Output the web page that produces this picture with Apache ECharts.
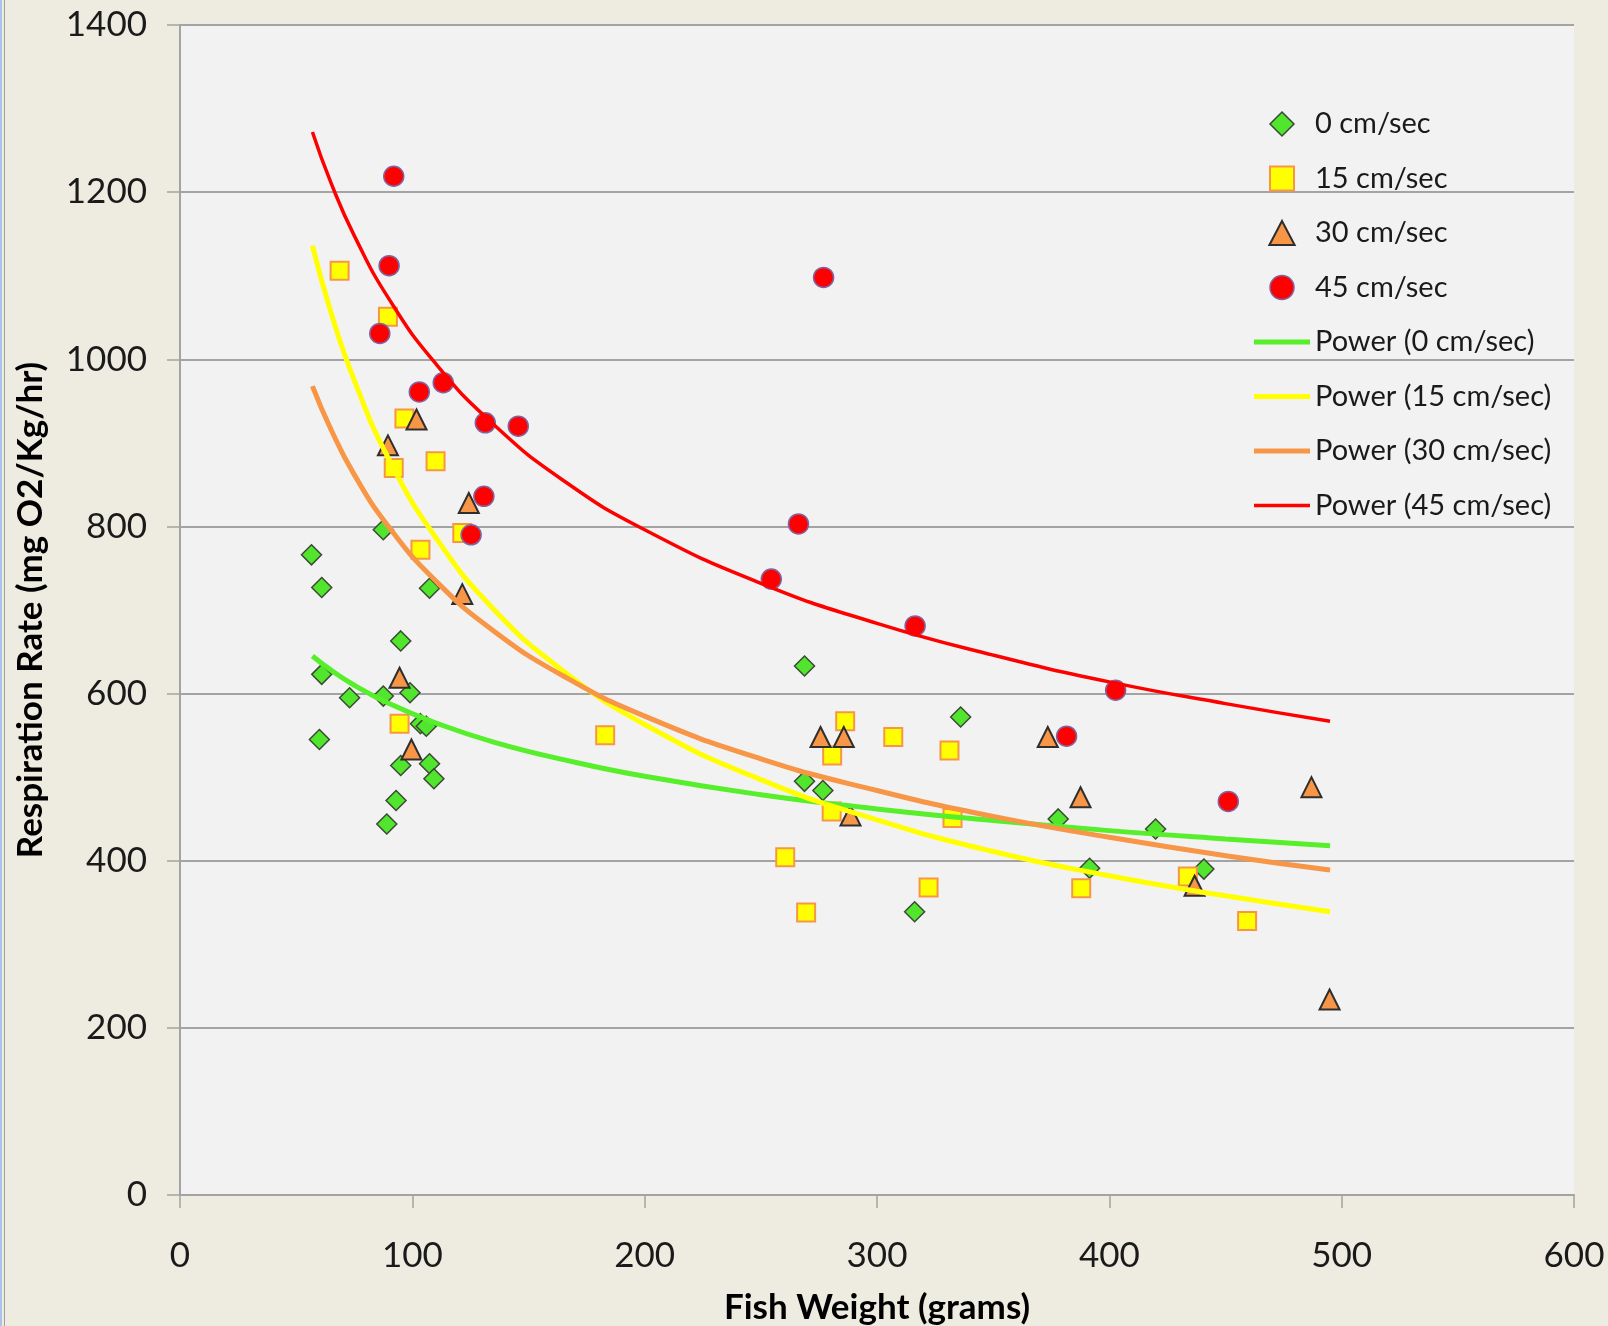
<!DOCTYPE html>
<html>
<head>
<meta charset="utf-8">
<script src="https://cdn.jsdelivr.net/npm/echarts@6/dist/echarts.min.js"></script>
<style>
  html, body { margin: 0; padding: 0; background: #EEECE1; }
  #chart { width: 1608px; height: 1326px; }
  #edge1 { position: absolute; left: 0; top: 0; width: 2px; height: 1326px; background: #A9C4EA; }
  #edge2 { position: absolute; left: 4px; top: 0; width: 1px; height: 1326px; background: #A0A0A0; }
</style>
</head>
<body>
<div id="chart"></div>
<div id="edge1"></div>
<div id="edge2"></div>
<script>
// ---- Data ----
const xTicks = [0, 100, 200, 300, 400, 500, 600];
const yTicks = [0, 200, 400, 600, 800, 1000, 1200, 1400];

const names = ['0 cm/sec', '15 cm/sec', '30 cm/sec', '45 cm/sec'];

const speed0X = [56.6, 61, 61, 60, 73, 87.5, 87.5, 95, 99, 107.4, 103.5, 106, 95, 107.4, 109.3, 93, 89, 268.8, 268.8, 276.7, 316.2, 336, 378, 419.9, 391.5, 440.7];
const speed0Y = [766, 727, 623, 545, 595, 597, 796, 663, 601, 726, 564, 561, 514, 516, 498, 472, 444, 633, 495, 484, 339, 572, 450, 438, 391, 390];

const speed15X = [68.7, 89.5, 96.6, 92, 110, 121.5, 103.5, 94.5, 183, 286.3, 307, 280.7, 331.2, 280.5, 332.5, 260.5, 322.2, 269.5, 387.9, 433.8, 459.3];
const speed15Y = [1106, 1051, 929, 870, 878, 792, 772, 564, 550, 567, 548, 526, 532, 459, 451, 404, 368, 338, 367, 381, 328];

const speed30X = [101.8, 89.5, 124.3, 121.5, 94.5, 99.6, 275.7, 285.7, 288.6, 373.5, 387.6, 436.7, 487, 494.8];
const speed30Y = [928, 897, 828, 719, 619, 533, 548, 548, 454, 548, 476, 370, 488, 234];

const speed45X = [92, 90, 86, 103, 113.3, 131.4, 145.6, 130.8, 125.3, 277, 266.2, 254.5, 316.4, 381.6, 402.7, 451.2];
const speed45Y = [1219, 1112, 1031, 961, 972, 924, 920, 836, 790, 1098, 803, 737, 681, 549, 604, 471];

// Trendline curves at these weights
const trendX = [57, 65, 75, 90, 110, 135, 165, 200, 250, 300, 350, 400, 450, 495];
const power0Y  = [645, 628, 610, 588, 565, 542, 521, 501, 479, 462, 448, 436, 426, 418];
const power15Y = [1136, 1056, 975, 880, 787, 701, 627, 563, 497, 449, 411, 382, 358, 339];
const power30Y = [968, 916, 862, 799, 735, 675, 621, 573, 522, 484, 453, 428, 406, 389];
const power45Y = [1272, 1211, 1148, 1072, 995, 922, 855, 796, 732, 684, 646, 614, 588, 567];

// ---- Build ----
const zip = (xs, ys) => xs.map((x, i) => [x, ys[i]]);
const FONT = 'Lato, "Open Sans", sans-serif';

const chart = echarts.init(document.getElementById('chart'), null, { renderer: 'canvas' });

const scatterStyles = [
  { symbol: 'diamond', size: 20, color: '#52E52E', border: '#3B4A35', bw: 1.5, icon: 'path://M10,0 L20,10 L10,20 L0,10 Z' },
  { symbol: 'rect', size: 18, color: '#FFFF00', border: '#F79646', bw: 2, icon: 'path://M0,0 L18,0 L18,18 L0,18 Z' },
  { symbol: 'triangle', size: 20, color: '#F79646', border: '#2E2E2E', bw: 2, icon: 'path://M10,0 L20,19 L0,19 Z' },
  { symbol: 'circle', size: 20, color: '#FF0000', border: '#8064A2', bw: 1.5, icon: 'path://M10,0 A10,10 0 1,1 9.99,0 Z' }
];
const scatterData = [zip(speed0X, speed0Y), zip(speed15X, speed15Y), zip(speed30X, speed30Y), zip(speed45X, speed45Y)];

const lineStyles = [
  { color: '#57EE2B', width: 5, icon: 'path://M0,0 L56,0 L56,5 L0,5 Z' },
  { color: '#FFFF00', width: 5, icon: 'path://M0,0 L56,0 L56,5 L0,5 Z' },
  { color: '#F79646', width: 5, icon: 'path://M0,0 L56,0 L56,5 L0,5 Z' },
  { color: '#FF0000', width: 3.5, icon: 'path://M0,0 L56,0 L56,3.5 L0,3.5 Z' }
];
const lineData = [zip(trendX, power0Y), zip(trendX, power15Y), zip(trendX, power30Y), zip(trendX, power45Y)];

const series = [];
const legendData = [];
names.forEach((n, i) => {
  const s = scatterStyles[i];
  series.push({
    name: n,
    type: 'scatter',
    symbol: s.symbol,
    symbolSize: s.size,
    z: 2,
    itemStyle: { color: s.color, borderColor: s.border, borderWidth: s.bw, opacity: 1 },
    data: scatterData[i]
  });
  legendData.push({ name: n, icon: s.icon, itemStyle: { color: s.color, borderColor: s.border, borderWidth: s.bw } });
});
names.forEach((n, i) => {
  const l = lineStyles[i];
  const nm = 'Power (' + n + ')';
  series.push({
    name: nm,
    type: 'line',
    symbol: 'none',
    showSymbol: false,
    smooth: true,
    z: 3,
    lineStyle: { color: l.color, width: l.width },
    itemStyle: { color: l.color },
    data: lineData[i]
  });
  legendData.push({ name: nm, icon: l.icon, itemStyle: { color: l.color, borderWidth: 0 } });
});

chart.setOption({
  animation: false,
  backgroundColor: '#EEECE1',
  grid: {
    left: 180, right: 34, top: 25, bottom: 131,
    containLabel: false,
    outerBoundsMode: 'none',
    show: true, backgroundColor: '#F2F2F2', borderWidth: 0
  },
  legend: {
    orient: 'vertical',
    left: 1254,
    top: 107,
    padding: 0,
    itemWidth: 56,
    itemHeight: 24,
    itemGap: 20.5,
    symbolKeepAspect: true,
    textStyle: { fontFamily: FONT, fontSize: 29, lineHeight: 34, color: '#1A1A1A' },
    data: legendData
  },
  xAxis: {
    type: 'value',
    min: xTicks[0],
    max: xTicks[xTicks.length - 1],
    interval: 100,
    name: 'Fish Weight (grams)',
    nameLocation: 'middle',
    nameGap: 95.5,
    nameTextStyle: { fontFamily: FONT, fontSize: 35, fontWeight: 'bold', color: '#000', lineHeight: 35 },
    axisLine: { show: true, onZero: false, lineStyle: { color: '#A3A3A3', width: 2 } },
    axisTick: { show: true, inside: false, length: 13, lineStyle: { color: '#A3A3A3', width: 1.5 } },
    axisLabel: { fontFamily: FONT, fontSize: 35, lineHeight: 35, color: '#1A1A1A', margin: 43, formatter: v => String(v) },
    splitLine: { show: false }
  },
  yAxis: {
    type: 'value',
    min: yTicks[0],
    max: yTicks[yTicks.length - 1],
    interval: 200,
    name: 'Respiration Rate (mg O2/Kg/hr)',
    nameLocation: 'middle',
    nameGap: 131.5,
    nameTextStyle: { fontFamily: FONT, fontSize: 35, fontWeight: 'bold', color: '#000', lineHeight: 35 },
    axisLine: { show: true, lineStyle: { color: '#A3A3A3', width: 2 } },
    axisTick: { show: true, inside: false, length: 13, lineStyle: { color: '#A3A3A3', width: 1.5 } },
    axisLabel: { fontFamily: FONT, fontSize: 35, color: '#1A1A1A', margin: 33, formatter: v => String(v) },
    splitLine: { show: true, lineStyle: { color: '#A3A3A3', width: 2 } }
  },
  series: series
});
</script>
</body>
</html>
